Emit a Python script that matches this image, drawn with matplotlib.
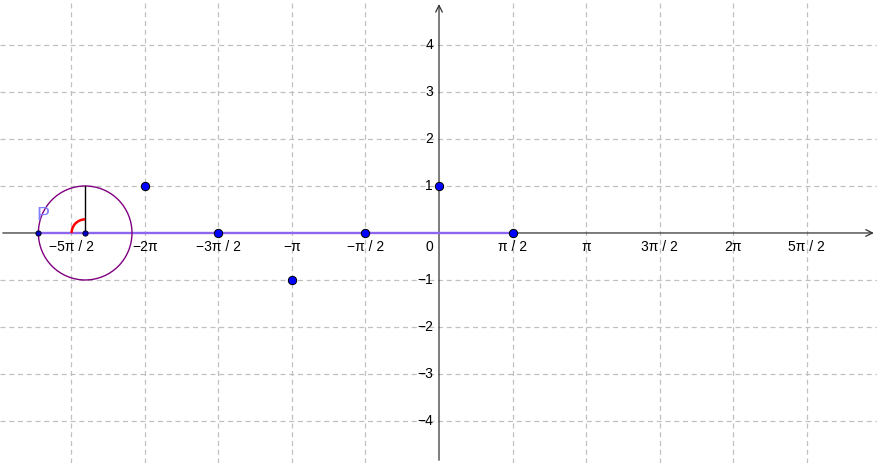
import numpy as np
import matplotlib.pyplot as plt
from matplotlib.patches import Circle, Arc

plt.rcParams['font.family'] = ['Liberation Sans', 'DejaVu Sans']

# data
xtick_vals = [-5*np.pi/2, -2*np.pi, -3*np.pi/2, -np.pi, -np.pi/2, np.pi/2,
              np.pi, 3*np.pi/2, 2*np.pi, 5*np.pi/2]
xtick_labels = ['\u22125\u03c0 / 2', '\u22122\u03c0', '\u22123\u03c0 / 2', '\u2212\u03c0',
                '\u2212\u03c0 / 2', '\u03c0 / 2', '\u03c0', '3\u03c0 / 2', '2\u03c0', '5\u03c0 / 2']
ytick_vals = [-4, -3, -2, -1, 1, 2, 3, 4]
pts_x = [-2*np.pi, -3*np.pi/2, -np.pi, -np.pi/2, 0, np.pi/2]
pts_y = [1, 0, -1, 0, 1, 0]
p_x = -8.56
center_x = -7.56
radius = 1.0

fig = plt.figure(figsize=(8.78, 4.63), dpi=100)
ax = fig.add_axes([0, 0, 1, 1])
ax.set_xlim(-9.38, 9.38)
ax.set_ylim(-4.894, 4.957)
ax.axis('off')

# grid
for xv in xtick_vals:
    ax.axvline(xv, color='#c0c0c0', lw=0.9, ls=(0, (4, 3)), zorder=0)
for yv in ytick_vals:
    ax.axhline(yv, color='#c0c0c0', lw=0.9, ls=(0, (4, 3)), zorder=0)

# axes with arrows
ax.annotate('', xy=(9.35, 0), xytext=(-9.38, 0),
            arrowprops=dict(arrowstyle='->', color='#333333', lw=0.9, mutation_scale=12))
ax.annotate('', xy=(0, 4.93), xytext=(0, -4.894),
            arrowprops=dict(arrowstyle='->', color='#333333', lw=0.9, mutation_scale=12))

# tick labels
for xv, lab in zip(xtick_vals, xtick_labels):
    ax.text(xv, -0.15, lab, ha='center', va='top', fontsize=10)
ax.text(-0.13, -0.15, '0', ha='right', va='top', fontsize=10)
for yv in ytick_vals:
    ax.text(-0.13, yv, '\u2212%d' % -yv if yv < 0 else str(yv),
            ha='right', va='center', fontsize=10)

# segment from P to pi/2
ax.plot([p_x, np.pi/2], [0, 0], color='#8c66ee', lw=1.7, zorder=3)

# circle, radius line and angle arc
ax.add_patch(Circle((center_x, 0), radius, fill=False, ec='#800080', lw=1, zorder=4))
ax.plot([center_x, center_x], [0, radius], color='black', lw=1, zorder=4)
ax.add_patch(Arc((center_x, 0), 0.58, 0.58, theta1=90, theta2=180,
                 color='red', lw=1.8, zorder=5))

# points
ax.plot(pts_x, pts_y, 'o', ms=6, mfc='#0000ff', mec='black', mew=0.7, zorder=6)
ax.plot([p_x, center_x], [0, 0], 'o', ms=3.8, mfc='#0000cc', mec='black', mew=0.6, zorder=6)
ax.text(p_x + 0.1, 0.2, 'P', color='#8080ff', fontsize=14, ha='center', va='bottom',
        zorder=7)

fig.savefig('out.png', dpi=100)
